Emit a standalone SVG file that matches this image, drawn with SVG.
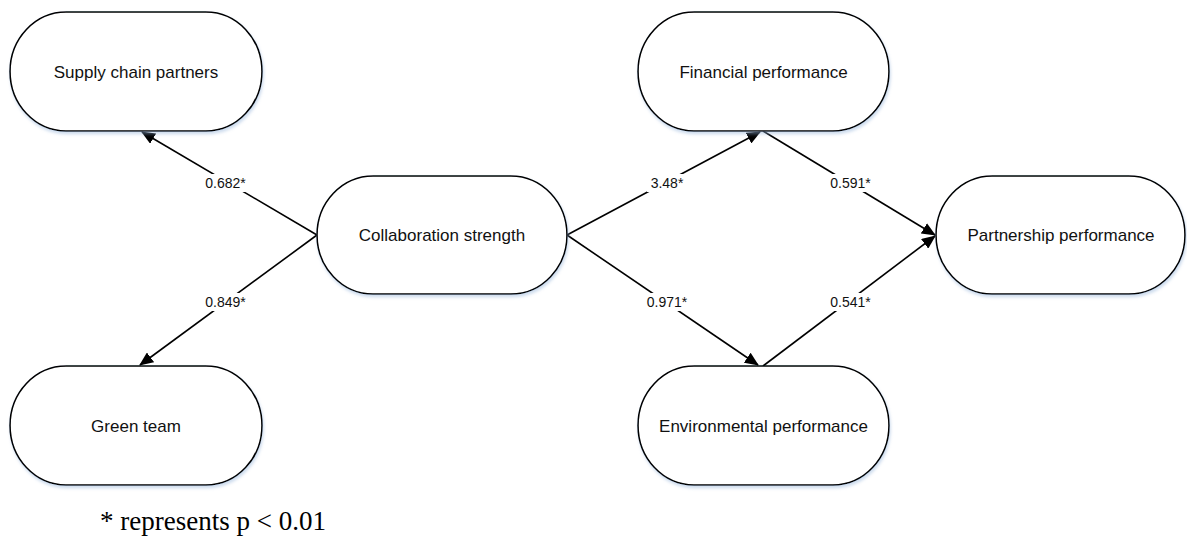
<svg xmlns="http://www.w3.org/2000/svg" width="1187" height="540" viewBox="0 0 1187 540">
<style>
.node{fill:#ffffff;stroke:#000000;stroke-width:1.6;filter:url(#sh)}
.lbl{font-family:"Liberation Sans",Arial,sans-serif;font-size:17px;fill:#111;text-anchor:middle}
.edge{stroke:#000;stroke-width:1.6;fill:none;marker-end:url(#arr)}
.el{font-family:"Liberation Sans",Arial,sans-serif;font-size:14px;fill:#111;text-anchor:middle}
.bg{fill:#fff}
.note{font-family:"Liberation Serif","Times New Roman",serif;font-size:27px;fill:#000}
</style>
<defs>
<filter id="sh" x="-10%" y="-10%" width="120%" height="130%">
<feDropShadow dx="1" dy="2.5" stdDeviation="1.5" flood-color="#8fb0d8" flood-opacity="0.45"/>
</filter>
<marker id="arr" markerUnits="userSpaceOnUse" markerWidth="14" markerHeight="12" viewBox="0 0 14 12" refX="13" refY="6" orient="auto">
<path d="M0,0 L14,6 L0,12 Z" fill="#000"/>
</marker>
</defs>
<g id="connectors">
<line class="edge" x1="317" y1="235" x2="142" y2="132"/>
<line class="edge" x1="317" y1="235" x2="140" y2="365"/>
<line class="edge" x1="567" y1="235" x2="760" y2="132"/>
<line class="edge" x1="763" y1="131" x2="935" y2="235"/>
<line class="edge" x1="567" y1="235" x2="758" y2="365"/>
<line class="edge" x1="763" y1="366" x2="935" y2="236"/>
<g id="edge-labels">
<rect class="bg" x="203" y="174" width="45" height="18"/>
<text class="el" x="225.5" y="188">0.682*</text>
<rect class="bg" x="203" y="293" width="45" height="18"/>
<text class="el" x="225.5" y="307">0.849*</text>
<rect class="bg" x="647" y="174" width="40" height="18"/>
<text class="el" x="667" y="188">3.48*</text>
<rect class="bg" x="828" y="174" width="45" height="18"/>
<text class="el" x="850.5" y="188">0.591*</text>
<rect class="bg" x="645" y="293" width="45" height="18"/>
<text class="el" x="667" y="307">0.971*</text>
<rect class="bg" x="828" y="293" width="45" height="18"/>
<text class="el" x="850.5" y="307">0.541*</text>
</g>
</g>
<g id="supply-chain-partners">
<rect class="node" x="10" y="12" width="252" height="119" rx="56" ry="59.5"/>
<text class="lbl" x="136" y="78">Supply chain partners</text>
</g>
<g id="green-team">
<rect class="node" x="10" y="366" width="252" height="119" rx="56" ry="59.5"/>
<text class="lbl" x="136" y="432">Green team</text>
</g>
<g id="collaboration-strength">
<rect class="node" x="317" y="176" width="250" height="118" rx="56" ry="59"/>
<text class="lbl" x="442" y="241">Collaboration strength</text>
</g>
<g id="financial-performance">
<rect class="node" x="638" y="12" width="251" height="119" rx="56" ry="59.5"/>
<text class="lbl" x="763.5" y="78">Financial performance</text>
</g>
<g id="environmental-performance">
<rect class="node" x="638" y="366" width="251" height="119" rx="56" ry="59.5"/>
<text class="lbl" x="763.5" y="432">Environmental performance</text>
</g>
<g id="partnership-performance">
<rect class="node" x="936" y="176" width="249" height="118" rx="56" ry="59"/>
<text class="lbl" x="1061" y="241">Partnership performance</text>
</g>
<text class="note" x="100" y="530">* represents p &lt; 0.01</text>
</svg>
